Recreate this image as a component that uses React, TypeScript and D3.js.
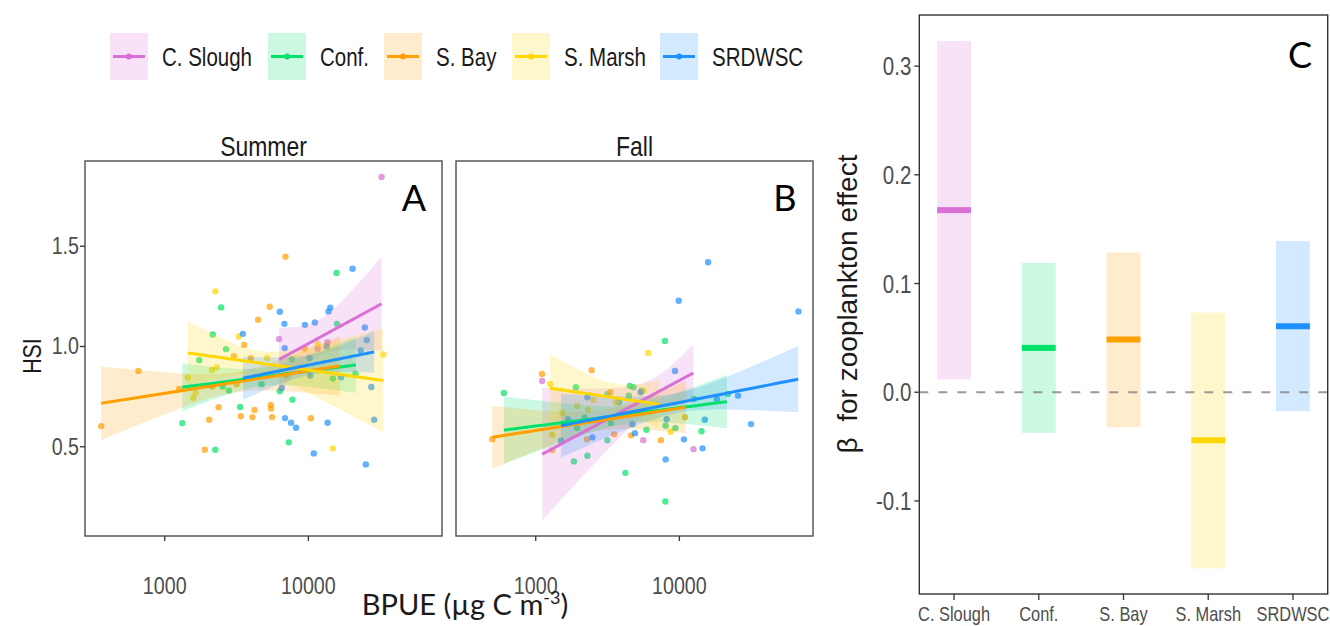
import React from "react";
import * as d3 from "d3";

// ---------- categories ----------
const SITES = ["C. Slough", "Conf.", "S. Bay", "S. Marsh", "SRDWSC"];
const SITE_COLORS = ["#DA70D6", "#00E36A", "#FF9F00", "#FFD700", "#1E90FF"];

// ---------- Panel A (Summer) observations: [BPUE, HSI] ----------
const summerCSlough = [[32300, 1.845], [6250, 1.037], [13600, 1.02], [11600, 0.99]];
const summerConf = [
  [15700, 1.367], [2470, 1.195], [2160, 1.06], [2670, 0.987], [1740, 0.932], [1325, 0.618],
  [2250, 0.485], [3350, 0.698], [7740, 0.735], [7300, 0.522], [2530, 0.8], [2800, 0.78],
  [4720, 0.812], [6320, 0.777], [7660, 0.937], [15800, 1.113], [21300, 0.863], [14800, 0.84],
];
const summerSBay = [
  [361, 0.603], [656, 0.878], [6920, 1.448], [5380, 1.198], [4470, 1.133], [3570, 1.008],
  [3030, 0.952], [3970, 0.942], [1263, 0.788], [2140, 0.8], [2370, 0.697], [2040, 0.635],
  [3390, 0.652], [4080, 0.648], [4220, 0.683], [5470, 0.708], [5500, 0.69], [5590, 0.648],
  [10400, 0.642], [1900, 0.485], [3160, 0.813], [7000, 0.858], [9400, 0.99],
];
const summerSMarsh = [
  [2250, 1.275], [3280, 1.05], [2300, 0.895], [2130, 0.883], [1445, 0.845], [5160, 0.943],
  [11600, 1.013], [33300, 0.96], [14800, 0.492], [1580, 0.743], [1640, 0.77],
];
const summerSRDWSC = [
  [20300, 1.388], [6320, 1.173], [6810, 1.113], [3500, 1.063], [9460, 1.108], [11100, 1.12],
  [13800, 1.175], [14200, 1.193], [24700, 1.095], [25500, 1.032], [23100, 0.98], [6840, 0.992],
  [10200, 0.943], [10300, 0.855], [16900, 0.847], [27400, 0.798], [28700, 0.635], [6880, 0.643],
  [7570, 0.62], [8200, 0.595], [13600, 0.62], [10900, 0.467], [25100, 0.412], [6530, 0.793],
  [13400, 1.0],
];

// ---------- Panel B (Fall) observations: [BPUE, HSI] ----------
const fallCSlough = [[1107, 0.828], [5600, 0.533], [12530, 0.488]];
const fallConf = [
  [7930, 1.028], [600, 0.768], [1905, 0.797], [4520, 0.803], [4790, 0.797], [5470, 0.78],
  [4450, 0.755], [3800, 0.722], [3160, 0.762], [2190, 0.645], [1940, 0.593], [3330, 0.618],
  [5900, 0.585], [8020, 0.605], [9380, 0.593], [12650, 0.738], [14260, 0.577], [3155, 0.532],
  [1845, 0.427], [2290, 0.455], [4210, 0.37], [7980, 0.227], [21800, 0.763],
];
const fallSBay = [
  [498, 0.538], [1107, 0.863], [2450, 0.882], [3310, 0.772], [3510, 0.562], [4610, 0.557],
  [7430, 0.533], [1300, 0.483], [2275, 0.538], [10940, 0.647],
];
const fallSMarsh = [
  [6070, 0.968], [1260, 0.813], [2520, 0.733], [1940, 0.702], [2310, 0.685], [1530, 0.668],
  [5620, 0.78], [3620, 0.722], [8690, 0.575], [1300, 0.56],
];
const fallSRDWSC = [
  [15850, 1.42], [9890, 1.228], [67450, 1.175], [9310, 0.878], [25590, 0.755], [31550, 0.613],
  [15030, 0.635], [14490, 0.492], [10760, 0.537], [8020, 0.437], [2290, 0.747], [2480, 0.547],
  [4900, 0.568], [4710, 0.612], [1675, 0.638], [1500, 0.53], [18240, 0.738], [5360, 0.772],
  [8150, 0.637],
];

// ---------- fitted lines (per site) ----------
const summerFitFrom = [6250, 1325, 361, 1445, 3500];
const summerFitTo = [32300, 21400, 16500, 33300, 28700];
const summerFitStartHSI = [0.935, 0.797, 0.717, 0.968, 0.842];
const summerFitEndHSI = [1.213, 0.908, 0.903, 0.83, 0.973];
const summerCIStart = [0.16, 0.12, 0.183, 0.159, 0.108];
const summerCIEnd = [0.235, 0.139, 0.148, 0.26, 0.104];
const summerCIMin = [0.09, 0.045, 0.05, 0.06, 0.05];

const fallFitFrom = [1110, 600, 498, 1260, 1500];
const fallFitTo = [12500, 21400, 11070, 7190, 67100];
const fallFitStartHSI = [0.463, 0.583, 0.547, 0.792, 0.605];
const fallFitEndHSI = [0.868, 0.725, 0.697, 0.712, 0.837];
const fallCIStart = [0.33, 0.168, 0.157, 0.17, 0.158];
const fallCIEnd = [0.142, 0.133, 0.13, 0.12, 0.165];
const fallCIMin = [0.08, 0.045, 0.05, 0.07, 0.05];

// ---------- Panel C: beta estimates ----------
const betaMedian = [0.1675, 0.0408, 0.0485, -0.0442, 0.0607];
const betaLower = [0.0117, -0.0374, -0.0322, -0.162, -0.0175];
const betaUpper = [0.323, 0.119, 0.1285, 0.0733, 0.139];

// ---------- tick labels ----------
const HSI_TICKS = [0.5, 1.0, 1.5];
const BPUE_TICKS = [1000, 10000];
const BETA_TICKS = [-0.1, 0.0, 0.1, 0.2, 0.3];

// ---------- layout ----------
const GG_FONT = "'Liberation Sans', Arial, sans-serif";
const ANNOT_FONT = "Lato, 'Open Sans', sans-serif";
const SX = 0.82;
const LEGEND_KEY_X = [110, 268, 384, 512, 660];

function T({ x, y, size, sx = SX, anchor = "middle", rotate = 0, fill = "#1a1a1a", family = GG_FONT, children, baseline = "auto" }: any) {
  return (
    <text
      transform={`translate(${x},${y}) rotate(${rotate}) scale(${sx},1)`}
      fontSize={size}
      textAnchor={anchor}
      fill={fill}
      fontFamily={family}
      dominantBaseline={baseline}
    >
      {children}
    </text>
  );
}

function bandData(from: number, to: number, y0: number, y1: number, hw0: number, hw1: number, hwm: number) {
  const lx0 = Math.log10(from), lx1 = Math.log10(to);
  const L = lx1 - lx0;
  const A = Math.max(hw0 * hw0 - hwm * hwm, 1e-9);
  const B = Math.max(hw1 * hw1 - hwm * hwm, 1e-9);
  const sA = Math.sqrt(A), sB = Math.sqrt(B);
  const d0 = (L * sA) / (sA + sB);
  const b = sA / Math.max(d0, 1e-9);
  const xc = lx0 + d0;
  return d3.range(0, 61).map((i) => {
    const t = i / 60;
    const lx = lx0 + L * t;
    const c = y0 + (y1 - y0) * t;
    const h = Math.sqrt(hwm * hwm + b * b * (lx - xc) * (lx - xc));
    return { x: Math.pow(10, lx), lo: c - h, hi: c + h, c };
  });
}

function Panel({ id, left, right, top, bottom, points, fit, title, letter, showY }: any) {
  const xs = d3.scaleLog().domain([Math.pow(10, 2.445), Math.pow(10, 4.93)]).range([left, right]);
  const ys = d3.scaleLinear().domain([0.055, 1.925]).range([bottom, top]);
  const area = d3.area<any>().x((d) => xs(d.x)).y0((d) => ys(d.lo)).y1((d) => ys(d.hi));
  const line = d3.line<any>().x((d) => xs(d.x)).y((d) => ys(d.c));
  const bands = SITES.map((_, i) =>
    bandData(fit.from[i], fit.to[i], fit.y0[i], fit.y1[i], fit.hw0[i], fit.hw1[i], fit.hwm[i])
  );
  return (
    <g>
      <defs>
        <clipPath id={`clip-${id}`}>
          <rect x={left} y={top} width={right - left} height={bottom - top} />
        </clipPath>
      </defs>
      <g clipPath={`url(#clip-${id})`}>
        {points.map((pts: number[][], i: number) =>
          pts.map((p, j) => (
            <circle key={`${i}-${j}`} cx={xs(p[0])} cy={ys(p[1])} r={3.2} fill={SITE_COLORS[i]} fillOpacity={0.7} />
          ))
        )}
        {bands.map((bd, i) => (
          <path key={`b${i}`} d={area(bd) || ""} fill={SITE_COLORS[i]} fillOpacity={0.2} />
        ))}
        {bands.map((bd, i) => (
          <path key={`l${i}`} d={line(bd) || ""} fill="none" stroke={SITE_COLORS[i]} strokeWidth={3} />
        ))}
      </g>
      <rect x={left} y={top} width={right - left} height={bottom - top} fill="none" stroke="#4d4d4d" strokeWidth={1.4} />
      {BPUE_TICKS.map((t) => (
        <g key={t}>
          <line x1={xs(t)} x2={xs(t)} y1={bottom} y2={bottom + 5} stroke="#333" strokeWidth={1.3} />
          <T x={xs(t)} y={bottom + 58} size={24} fill="#4d4d4d">{String(t)}</T>
        </g>
      ))}
      {showY &&
        HSI_TICKS.map((t) => (
          <g key={t}>
            <line x1={left - 5} x2={left} y1={ys(t)} y2={ys(t)} stroke="#333" strokeWidth={1.3} />
            <T x={left - 6} y={ys(t) + 8} size={24} anchor="end" fill="#4d4d4d">{t.toFixed(1)}</T>
          </g>
        ))}
      <T x={(left + right) / 2} y={top - 5} size={28}>{title}</T>
      <T x={right - 28} y={top + 50} size={36} sx={1} family={ANNOT_FONT} fill="#000">{letter}</T>
    </g>
  );
}

function PanelC() {
  const left = 919.3, right = 1327.7, top = 15, bottom = 594;
  const xs = d3.scalePoint<string>().domain(SITES).range([left, right]).padding(0.41);
  const ys = d3.scaleLinear().domain([-0.1856, 0.347]).range([bottom, top]);
  const bw = xs.step() * 0.4;
  return (
    <g>
      {SITES.map((s, i) => (
        <g key={s}>
          <rect x={xs(s)! - bw / 2} y={ys(betaUpper[i])} width={bw} height={ys(betaLower[i]) - ys(betaUpper[i])} fill={SITE_COLORS[i]} fillOpacity={0.2} />
          <rect x={xs(s)! - bw / 2} y={ys(betaMedian[i]) - 3} width={bw} height={6} fill={SITE_COLORS[i]} />
        </g>
      ))}
      <line x1={left} x2={right} y1={ys(0)} y2={ys(0)} stroke="#888" strokeOpacity={0.85} strokeWidth={2} strokeDasharray="9,10" />
      <rect x={left} y={top} width={right - left} height={bottom - top} fill="none" stroke="#333" strokeWidth={1.4} />
      {BETA_TICKS.map((t) => (
        <g key={t}>
          <line x1={left - 5} x2={left} y1={ys(t)} y2={ys(t)} stroke="#333" strokeWidth={1.3} />
          <T x={left - 8} y={ys(t) + 9} size={25} anchor="end" fill="#4d4d4d">{t.toFixed(1)}</T>
        </g>
      ))}
      {SITES.map((s) => (
        <g key={s}>
          <line x1={xs(s)!} x2={xs(s)!} y1={bottom} y2={bottom + 6} stroke="#333" strokeWidth={1.3} />
          <T x={xs(s)!} y={bottom + 27} size={20} fill="#4d4d4d">{s}</T>
        </g>
      ))}
      <T x={857} y={304} size={28} sx={1} rotate={-90} fill="#1a1a1a">
        {"\u03B2\u00A0\u00A0for zooplankton effect"}
      </T>
      <T x={1300} y={68} size={36} sx={1} family={ANNOT_FONT} fill="#000">C</T>
    </g>
  );
}

export default function App() {
  const summerFit = { from: summerFitFrom, to: summerFitTo, y0: summerFitStartHSI, y1: summerFitEndHSI, hw0: summerCIStart, hw1: summerCIEnd, hwm: summerCIMin };
  const fallFit = { from: fallFitFrom, to: fallFitTo, y0: fallFitStartHSI, y1: fallFitEndHSI, hw0: fallCIStart, hw1: fallCIEnd, hwm: fallCIMin };
  return (
    <svg width={1330} height={626} style={{ position: "absolute", left: 0, top: 0, background: "#fff" }}>
      <rect x={0} y={0} width={1330} height={626} fill="#fff" />
      {/* legend */}
      {SITES.map((s, i) => {
        const kx = LEGEND_KEY_X[i];
        return (
          <g key={s}>
            <rect x={kx} y={33} width={38} height={47} fill={SITE_COLORS[i]} fillOpacity={0.2} />
            <line x1={kx + 3} x2={kx + 35} y1={56.5} y2={56.5} stroke={SITE_COLORS[i]} strokeWidth={3} />
            <circle cx={kx + 19} cy={56.5} r={3} fill={SITE_COLORS[i]} />
            <T x={kx + 52} y={66} size={25} anchor="start">{s}</T>
          </g>
        );
      })}
      <Panel id="A" left={85} right={442} top={161} bottom={536} points={[summerCSlough, summerConf, summerSBay, summerSMarsh, summerSRDWSC]} fit={summerFit} title="Summer" letter="A" showY={true} />
      <Panel id="B" left={456} right={813} top={161} bottom={536} points={[fallCSlough, fallConf, fallSBay, fallSMarsh, fallSRDWSC]} fit={fallFit} title="Fall" letter="B" showY={false} />
      <T x={41} y={356} size={26} rotate={-90} fill="#1a1a1a">HSI</T>
      <text x={465} y={615} fontSize={29} fontFamily={ANNOT_FONT} textAnchor="middle" fill="#1a1a1a">
        BPUE (µg C m<tspan dy={-11} fontSize={18}>-3</tspan><tspan dy={11}>)</tspan>
      </text>
      <PanelC />
    </svg>
  );
}
